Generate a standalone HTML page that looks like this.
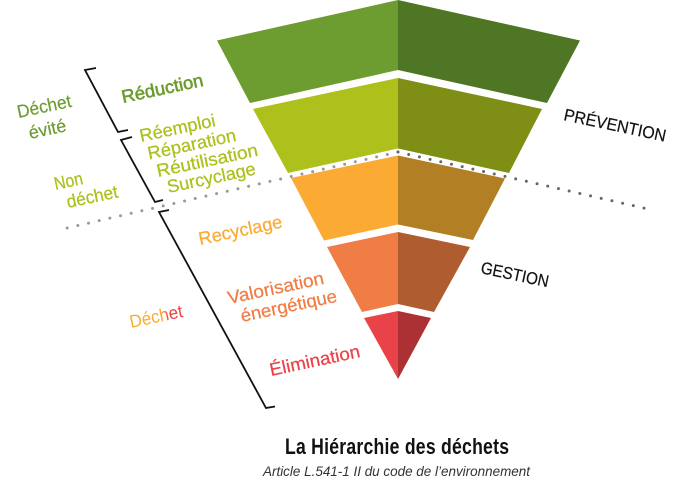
<!DOCTYPE html>
<html lang="fr"><head><meta charset="utf-8"><title>La Hiérarchie des déchets</title>
<style>html,body{margin:0;padding:0;background:#fff}svg{display:block}text{font-family:"Liberation Sans",sans-serif}
.a{fill:#6d9c31;stroke:#6d9c31;stroke-width:.2}.b{fill:#adc01b;stroke:#adc01b;stroke-width:.25}.c{fill:#fbaa33;stroke:#fbaa33;stroke-width:.25}.d{fill:#f07d45;stroke:#f07d45;stroke-width:.25}.e{fill:#e94349;stroke:#e94349;stroke-width:.25}.k{fill:#111;stroke:#111;stroke-width:.2}</style></head>
<body>
<svg width="679" height="489" viewBox="0 0 679 489" xmlns="http://www.w3.org/2000/svg">
<defs><linearGradient id="g" gradientUnits="userSpaceOnUse" x1="0" y1="0" x2="54" y2="0"><stop offset="0.6" stop-color="#fbaa33"/><stop offset="0.74" stop-color="#e94349"/></linearGradient></defs>
<polygon points="398,0 217,40.5 250,103 398,70" fill="#6d9c31"/>
<polygon points="398,0 580,40.5 547,103 398,70" fill="#4f7625"/>
<polygon points="398,78 253,109 288,173 398,148.5" fill="#adc01b"/>
<polygon points="398,78 542,109 509,173 398,148.5" fill="#7f8f15"/>
<polygon points="398,155.5 291,178 324,240.5 398,224.5" fill="#fbaa33"/>
<polygon points="398,155.5 505,178.5 473,240 398,224.5" fill="#b37f25"/>
<polygon points="398,232 327,247 362,312 398,304" fill="#f07d45"/>
<polygon points="398,232 470,247 434,312 398,304" fill="#ae5c30"/>
<polygon points="398,311 364,318 398,379" fill="#e94349"/>
<polygon points="398,311 431,318 398,379" fill="#ab3135"/>
<path d="M398,152 L67,228" fill="none" stroke="#999" stroke-width="3" stroke-linecap="round" stroke-dasharray="0 10.95"/>
<path d="M398,152 L648,209" fill="none" stroke="#666" stroke-width="3" stroke-linecap="round" stroke-dasharray="0 10.97"/>
<g fill="none" stroke="#111" stroke-width="1.8">
<path d="M96,68 L85,70 L118,132 L128,130"/>
<path d="M132,137 L121,140 L155,202 L163,200"/>
<path d="M169,210 L159,212 L266,408 L275,406.5"/>
</g>
<g font-size="18">
<text transform="translate(123,103) rotate(-12)" class="a" style="stroke-width:.6" textLength="83" lengthAdjust="spacingAndGlyphs">Réduction</text>
<text transform="translate(18.5,118) rotate(-12)" class="a" textLength="55" lengthAdjust="spacingAndGlyphs">Déchet</text>
<text transform="translate(30,139) rotate(-12)" class="a" textLength="38" lengthAdjust="spacingAndGlyphs">évité</text>
<text transform="translate(141,142) rotate(-12)" class="b" textLength="77" lengthAdjust="spacingAndGlyphs">Réemploi</text>
<text transform="translate(149,159.5) rotate(-12)" class="b" textLength="90" lengthAdjust="spacingAndGlyphs">Réparation</text>
<text transform="translate(158,177) rotate(-12)" class="b" textLength="103" lengthAdjust="spacingAndGlyphs">Réutilisation</text>
<text transform="translate(168.5,193) rotate(-12)" class="b" textLength="90" lengthAdjust="spacingAndGlyphs">Surcyclage</text>
<text transform="translate(55.5,190) rotate(-12)" class="b" textLength="29" lengthAdjust="spacingAndGlyphs">Non</text>
<text transform="translate(68,208) rotate(-12)" class="b" textLength="52" lengthAdjust="spacingAndGlyphs">déchet</text>
<text transform="translate(200,245) rotate(-12)" class="c" textLength="85" lengthAdjust="spacingAndGlyphs">Recyclage</text>
<text transform="translate(229,304) rotate(-12)" class="d" textLength="98" lengthAdjust="spacingAndGlyphs">Valorisation</text>
<text transform="translate(242,322) rotate(-12)" class="d" textLength="98" lengthAdjust="spacingAndGlyphs">énergétique</text>
<text transform="translate(271,376) rotate(-12)" class="e" textLength="92" lengthAdjust="spacingAndGlyphs">Élimination</text>
<text transform="translate(131,328) rotate(-12)" fill="url(#g)" textLength="54" lengthAdjust="spacingAndGlyphs">Déchet</text>
<text transform="translate(563,120) rotate(12)" class="k" font-size="17" textLength="104" lengthAdjust="spacingAndGlyphs">PRÉVENTION</text>
<text transform="translate(480,273) rotate(12)" class="k" font-size="17" textLength="69" lengthAdjust="spacingAndGlyphs">GESTION</text>
</g>
<text transform="translate(285,454) scale(.8,1)" fill="#111" font-size="22" font-weight="700" textLength="280" lengthAdjust="spacing">La Hiérarchie des déchets</text>
<text x="263" y="476" fill="#333" font-size="14" font-style="italic" textLength="267" lengthAdjust="spacingAndGlyphs">Article L.541-1 II du code de l’environnement</text>
</svg>
</body></html>
